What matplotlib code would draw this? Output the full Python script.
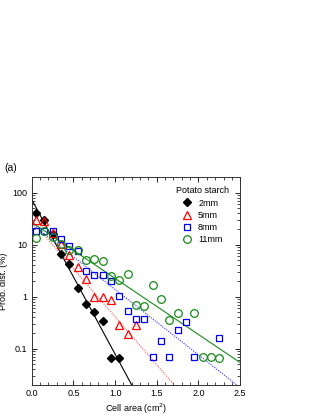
import matplotlib
matplotlib.use("Agg")
import matplotlib.pyplot as plt
from matplotlib.ticker import MultipleLocator, LogLocator, NullFormatter

plt.rcParams['font.family'] = ['Liberation Sans', 'DejaVu Sans']

# Data
x_2mm = [0.05, 0.15, 0.25, 0.35, 0.45, 0.55, 0.65, 0.75, 0.85, 0.95, 1.05]
y_2mm = [40, 30, 16, 6.5, 4.2, 1.5, 0.72, 0.5, 0.34, 0.067, 0.067]

x_5mm = [0.05, 0.15, 0.25, 0.35, 0.45, 0.55, 0.65, 0.75, 0.85, 0.95, 1.05, 1.15, 1.25]
y_5mm = [30, 28, 17, 10.4, 6.4, 3.7, 2.2, 1.0, 1.0, 0.86, 0.28, 0.19, 0.28]

x_8mm = [0.05, 0.15, 0.25, 0.35, 0.45, 0.55, 0.65, 0.75, 0.85, 0.95, 1.05, 1.15,
         1.25, 1.35, 1.45, 1.55, 1.65, 1.75, 1.85, 1.95, 2.25]
y_8mm = [18, 18.5, 18, 12.6, 9.3, 7.7, 3.1, 2.65, 2.65, 2.0, 1.05, 0.52,
         0.37, 0.37, 0.07, 0.14, 0.07, 0.23, 0.32, 0.07, 0.16]

x_11mm = [0.05, 0.15, 0.25, 0.35, 0.45, 0.55, 0.65, 0.75, 0.85, 0.95, 1.05, 1.15,
          1.25, 1.35, 1.45, 1.55, 1.65, 1.75, 1.95, 2.05, 2.15, 2.25]
y_11mm = [13.6, 18.5, 14, 10.4, 7.8, 7.8, 5.15, 5.2, 4.8, 2.5, 2.1, 2.7,
          0.69, 0.67, 1.7, 0.89, 0.35, 0.48, 0.48, 0.07, 0.07, 0.067]

# exponential fit lines (end points)
fit_2mm_x, fit_2mm_y = [0, 1.2], [74, 0.02]
fit_5mm_x, fit_5mm_y = [0, 1.71], [29, 0.02]
fit_8mm_x, fit_8mm_y = [0, 2.46], [25, 0.02]
fit_11mm_x, fit_11mm_y = [0, 2.5], [27, 0.054]

fig = plt.figure(figsize=(3.22, 4.16), dpi=100)
ax = fig.add_axes([0.0984, 0.0745, 0.6475, 0.5])

ax.plot(fit_2mm_x, fit_2mm_y, color='black', lw=0.8)
ax.plot(fit_5mm_x, fit_5mm_y, color='#ff5050', lw=0.8, ls=(0, (1, 1.2)))
ax.plot(fit_8mm_x, fit_8mm_y, color='#3030ff', lw=0.8, ls=(0, (1, 1.2)))
ax.plot(fit_11mm_x, fit_11mm_y, color='#1a8a1a', lw=0.8)

ax.plot(x_2mm, y_2mm, 'D', color='black', ms=4.2, ls='none', label='2mm')
ax.plot(x_5mm, y_5mm, '^', mfc='none', mec='red', mew=0.9, ms=5.5, ls='none', label='5mm')
ax.plot(x_8mm, y_8mm, 's', mfc='none', mec='#0000ee', mew=0.9, ms=5, ls='none', label='8mm')
ax.plot(x_11mm, y_11mm, 'o', mfc='none', mec='#178a17', mew=0.9, ms=5.5, ls='none', label='11mm')

ax.set_yscale('log')
ax.set_xlim(0, 2.5)
ax.set_ylim(0.02, 200)
ax.xaxis.set_major_locator(MultipleLocator(0.5))
ax.xaxis.set_minor_locator(MultipleLocator(0.1))
ax.yaxis.set_minor_locator(LogLocator(base=10, subs=range(2, 10), numticks=10))
ax.yaxis.set_minor_formatter(NullFormatter())
ax.set_yticks([0.1, 1, 10, 100])
ax.set_yticklabels(['0.1', '1', '10', '100'])
ax.set_xticks([0, 0.5, 1.0, 1.5, 2.0, 2.5])
ax.set_xticklabels(['0.0', '0.5', '1.0', '1.5', '2.0', '2.5'])

ax.tick_params(which='both', direction='in', top=True, right=True, labelsize=6.5, pad=3)
ax.tick_params(which='major', length=3.5, width=0.6)
ax.tick_params(which='minor', length=2, width=0.5)
for s in ax.spines.values():
    s.set_linewidth(0.7)
    s.set_color('#333333')

ax.set_xlabel('Cell area (cm$^2$)', fontsize=6.5, labelpad=2.5)
ax.set_ylabel('Prob. dist. (%)', fontsize=6.5, labelpad=3)

leg = ax.legend(title='Potato starch', loc='upper right', bbox_to_anchor=(0.975, 0.985),
                frameon=False, fontsize=6.5, title_fontsize=6.5, handletextpad=0.6,
                labelspacing=0.35, borderpad=0.2, handlelength=1.2)

fig.text(0.015, 0.59, '(a)', fontsize=7.5)

fig.savefig('out.png', dpi=100)
